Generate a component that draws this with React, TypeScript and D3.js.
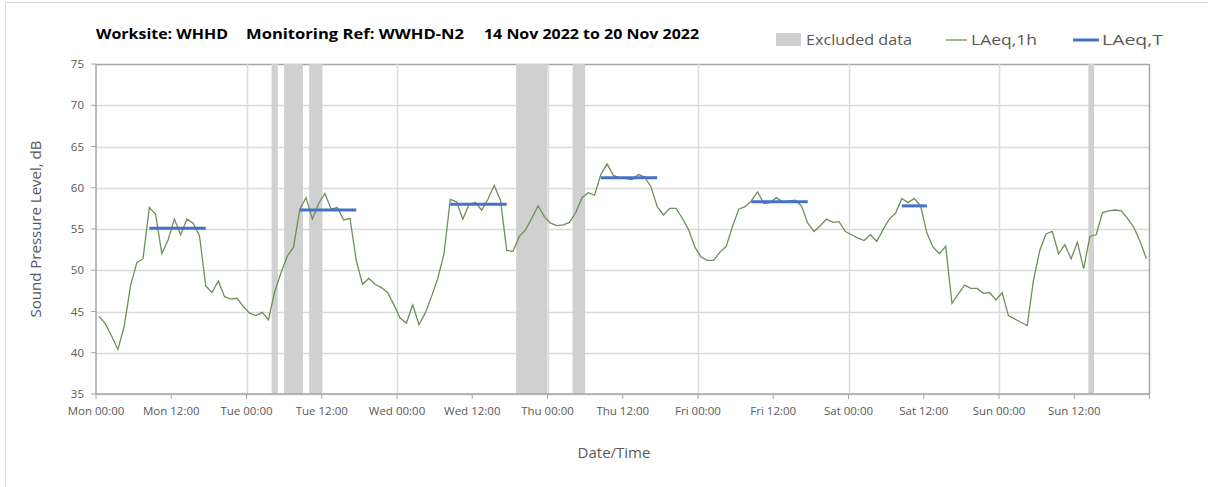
import React from "react";
import * as d3 from "d3";

// LAeq,1h hourly values (hour index 0 = Mon 00:00, plotted at mid-hour)
const lineValues: number[] = [
  44.4, 43.5, 42.0, 40.4, 43.2, 48.1, 50.9, 51.4, 57.6, 56.8,
  52.0, 53.7, 56.2, 54.3, 56.2, 55.7, 54.2, 48.1, 47.3, 48.7,
  46.8, 46.5, 46.6, 45.6, 44.8, 44.5, 44.9, 44.0, 47.4, 49.7,
  51.7, 52.8, 57.4, 58.8, 56.2, 58.1, 59.3, 57.4, 57.6, 56.1,
  56.3, 51.2, 48.3, 49.0, 48.3, 47.9, 47.3, 45.8, 44.2, 43.6,
  45.8, 43.4, 44.8, 46.8, 49.0, 52.0, 58.6, 58.3, 56.2, 58.0,
  58.2, 57.3, 58.6, 60.3, 58.5, 52.4, 52.3, 54.1, 54.9, 56.3,
  57.8, 56.5, 55.7, 55.4, 55.5, 55.8, 57.0, 58.8, 59.4, 59.1,
  61.6, 62.9, 61.5, 61.2, 61.1, 61.0, 61.6, 61.3, 60.1, 57.7,
  56.7, 57.5, 57.5, 56.3, 54.9, 52.8, 51.6, 51.2, 51.2, 52.2,
  52.9, 55.3, 57.4, 57.7, 58.4, 59.5, 58.1, 58.2, 58.8, 58.3,
  58.4, 58.5, 57.8, 55.7, 54.7, 55.4, 56.2, 55.8, 55.9, 54.7,
  54.3, 53.9, 53.6, 54.3, 53.5, 54.9, 56.2, 56.9, 58.7, 58.2,
  58.7, 57.8, 54.5, 52.8, 52.0, 52.9, 46.0, 47.1, 48.2, 47.8,
  47.8, 47.2, 47.3, 46.4, 47.3, 44.5, 44.1, 43.7, 43.3, 48.8,
  52.4, 54.4, 54.7, 52.0, 53.1, 51.4, 53.4, 50.2, 54.1, 54.3,
  57.0, 57.2, 57.3, 57.2, 56.3, 55.2, 53.5, 51.4,
];

// LAeq,T periods: start hour, end hour, level
const periodStarts: number[] = [8.5, 32.5, 56.5, 80.5, 104.5, 128.5];
const periodEnds: number[] = [17.5, 41.5, 65.5, 89.5, 113.5, 132.5];
const periodLevels: number[] = [55.1, 57.3, 58.0, 61.2, 58.3, 57.8];

// Excluded data bands (hours)
const excludedStarts: number[] = [28, 30, 34, 67, 76, 158.25];
const excludedEnds: number[] = [29, 33, 36.1, 72, 78, 159.15];

const dayNames: string[] = ["Mon", "Tue", "Wed", "Thu", "Fri", "Sat", "Sun"];
const yTicks: number[] = [35, 40, 45, 50, 55, 60, 65, 70, 75];

const FONT = "'Open Sans', 'DejaVu Sans', sans-serif";

export default function App() {
  const W = 1208;
  const H = 487;
  const x = d3.scaleLinear().domain([0, 168]).range([96, 1149.5]);
  const y = d3.scaleLinear().domain([35, 75]).range([394, 64]);

  const line = d3
    .line<number>()
    .x((_, i) => x(i + 0.5))
    .y((d) => y(d));

  const xTickHours = d3.range(0, 169, 12);
  const dayLines = d3.range(24, 168, 24);

  const labelColor = "#595959";

  return (
    <svg
      width={W}
      height={H}
      style={{ position: "absolute", left: 0, top: 0, background: "#fff" }}
      fontFamily={FONT}
    >
      <rect x={0} y={0} width={W} height={H} fill="#fff" />
      {/* outer chart border */}
      <rect x={5.5} y={2.5} width={W + 20} height={H + 20} fill="none" stroke="#d9d9d9" strokeWidth={1} />

      {/* Title */}
      <g fontWeight="bold" fontSize={14.5} fill="#000">
        <text x={96} y={39} textLength={132} lengthAdjust="spacingAndGlyphs">Worksite: WHHD</text>
        <text x={246} y={39} textLength={218} lengthAdjust="spacingAndGlyphs">Monitoring Ref: WWHD-N2</text>
        <text x={484} y={39} textLength={215} lengthAdjust="spacingAndGlyphs">14 Nov 2022 to 20 Nov 2022</text>
      </g>

      {/* Legend */}
      <g fontSize={15} fill={labelColor}>
        <rect x={776} y={33} width={25} height={13} fill="#d0d0d0" />
        <text x={806} y={45} textLength={106} lengthAdjust="spacingAndGlyphs">Excluded data</text>
        <line x1={946} x2={967} y1={40} y2={40} stroke="#6f8f5a" strokeWidth={1.3} />
        <text x={971} y={45} textLength={66} lengthAdjust="spacingAndGlyphs">LAeq,1h</text>
        <line x1={1073} x2={1099} y1={40} y2={40} stroke="#4472c4" strokeWidth={3} />
        <text x={1102} y={45} textLength={61} lengthAdjust="spacingAndGlyphs">LAeq,T</text>
      </g>

      {/* Horizontal gridlines */}
      {yTicks.map((t) => (
        <line
          key={"hg" + t}
          x1={x(0)}
          x2={x(168)}
          y1={Math.round(y(t)) + 0.5}
          y2={Math.round(y(t)) + 0.5}
          stroke={t === 75 ? "#a6a6a6" : "#d9d9d9"}
          strokeWidth={t === 75 ? 1.5 : 1.5}
        />
      ))}
      {/* vertical day gridlines */}
      {dayLines.map((h) => (
        <line
          key={"vg" + h}
          x1={Math.round(x(h)) + 0.5}
          x2={Math.round(x(h)) + 0.5}
          y1={y(75)}
          y2={y(35)}
          stroke="#dcdcdc"
          strokeWidth={1.5}
        />
      ))}

      {/* Excluded bands */}
      {excludedStarts.map((s, i) => (
        <rect
          key={"ex" + i}
          x={x(s)}
          y={y(75)}
          width={x(excludedEnds[i]) - x(s)}
          height={y(35) - y(75)}
          fill="#d0d0d0"
        />
      ))}

      {/* right border */}
      <line x1={x(168)} x2={x(168)} y1={y(75)} y2={y(35)} stroke="#a6a6a6" strokeWidth={1.5} />

      {/* Axes */}
      <line x1={x(0)} x2={x(0)} y1={y(75)} y2={y(35)} stroke="#a6a6a6" strokeWidth={1.5} />
      <line x1={x(0)} x2={x(168)} y1={y(35)} y2={y(35)} stroke="#a6a6a6" strokeWidth={1.5} />
      {yTicks.map((t) => (
        <g key={"yt" + t}>
          <line x1={x(0) - 5} x2={x(0)} y1={y(t)} y2={y(t)} stroke="#a6a6a6" strokeWidth={1} />
          <text x={84} y={y(t) + 4} textAnchor="end" fontSize={11.5} fill={labelColor}>
            {t}
          </text>
        </g>
      ))}
      {xTickHours.map((h) => (
        <g key={"xt" + h}>
          <line x1={x(h)} x2={x(h)} y1={y(35)} y2={y(35) + 5} stroke="#a6a6a6" strokeWidth={1} />
          {h < 168 && (
            <text x={x(h)} y={415} textAnchor="middle" fontSize={11.5} fill={labelColor}>
              {`${dayNames[Math.floor(h / 24)]} ${h % 24 === 0 ? "00:00" : "12:00"}`}
            </text>
          )}
        </g>
      ))}

      {/* Data line */}
      <path d={line(lineValues) || ""} fill="none" stroke="#6f8f5a" strokeWidth={1.3} />

      {/* LAeq,T */}
      {periodStarts.map((s, i) => (
        <line
          key={"p" + i}
          x1={x(s)}
          x2={x(periodEnds[i])}
          y1={y(periodLevels[i])}
          y2={y(periodLevels[i])}
          stroke="#4472c4"
          strokeWidth={3}
        />
      ))}

      {/* Axis titles */}
      <text
        transform={`translate(41, ${(y(75) + y(35)) / 2}) rotate(-90)`}
        textAnchor="middle"
        fontSize={15}
        fill={labelColor}
      >
        Sound Pressure Level, dB
      </text>
      <text x={614} y={458} textAnchor="middle" fontSize={15} fill={labelColor}>
        Date/Time
      </text>
    </svg>
  );
}
